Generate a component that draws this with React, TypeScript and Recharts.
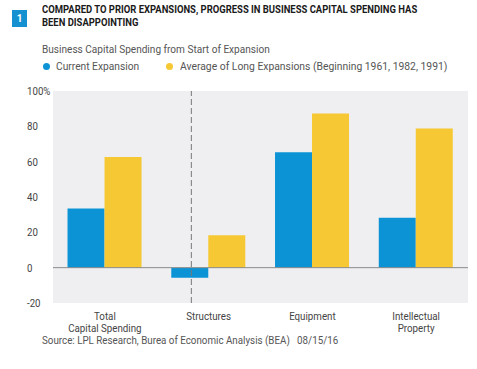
import React from "react";
import { BarChart, Bar, XAxis, YAxis, CartesianGrid, ReferenceLine } from "recharts";

const categories = ["Total\nCapital Spending", "Structures", "Equipment", "Intellectual\nProperty"];
const currentExpansion = [33.5, -5.7, 65.3, 28.2];
const longExpansions = [62.6, 18.3, 87.3, 78.8];
const yTicks = [-20, 0, 20, 40, 60, 80, 100];

const data = categories.map((name, i) => ({
  name,
  current: currentExpansion[i],
  average: longExpansions[i],
}));

const FONT = "Roboto, sans-serif";
const BLUE = "#0c93d6";
const YELLOW = "#f6c833";

// condensed look: squeeze text horizontally
function Narrow({ k, children }: { k: number; children: React.ReactNode }) {
  return (
    <span style={{ display: "inline-block", whiteSpace: "nowrap", transform: `scaleX(${k})`, transformOrigin: "left center" }}>
      {children}
    </span>
  );
}

function YTick(props: any) {
  const { y, payload } = props;
  const label = payload.value === 100 ? "100%" : String(payload.value);
  return (
    <g transform={`translate(27,${y}) scale(0.88,1)`}>
      <text x={0} y={0} dy={4} textAnchor="start" fontSize={11} fill="#444" fontFamily={FONT}>
        {label}
      </text>
    </g>
  );
}

function XTick(props: any) {
  const { x, y, payload } = props;
  const lines = String(payload.value).split("\n");
  return (
    <g transform={`translate(${x},${y}) scale(0.93,1)`}>
      <text x={0} y={0} textAnchor="middle" fontSize={10.5} fill="#444" fontFamily={FONT}>
        {lines.map((l, i) => (
          <tspan key={i} x={0} dy={i === 0 ? 9.5 : 11.5}>
            {l}
          </tspan>
        ))}
      </text>
    </g>
  );
}

export default function App() {
  return (
    <div
      style={{
        position: "absolute",
        left: 0,
        top: 0,
        width: 477,
        height: 369,
        background: "#fff",
        fontFamily: FONT,
      }}
    >
      <div
        style={{
          position: "absolute",
          left: 12,
          top: 10,
          width: 15,
          height: 17,
          background: "#1591d1",
          color: "#fff",
          fontSize: 10,
          fontWeight: 700,
          textAlign: "center",
          lineHeight: "17px",
        }}
      >
        1
      </div>
      <div style={{ position: "absolute", left: 42, top: 3, fontSize: 10.5, fontWeight: 700, lineHeight: "13px", color: "#1a1a1a" }}>
        <Narrow k={0.9}>COMPARED TO PRIOR EXPANSIONS, PROGRESS IN BUSINESS CAPITAL SPENDING HAS</Narrow>
        <br />
        <Narrow k={0.9}>BEEN DISAPPOINTING</Narrow>
      </div>
      <div style={{ position: "absolute", left: 42, top: 42, fontSize: 11.5, color: "#555", lineHeight: "15px" }}>
        <Narrow k={0.876}>Business Capital Spending from Start of Expansion</Narrow>
      </div>
      <div style={{ position: "absolute", left: 42, top: 59, fontSize: 11.5, color: "#555", lineHeight: "15px", display: "flex", alignItems: "center" }}>
        <span style={{ width: 7, height: 7, borderRadius: 4, background: BLUE, marginLeft: 1, marginRight: 6 }} />
        <span style={{ width: 110 }}>
          <Narrow k={0.89}>Current Expansion</Narrow>
        </span>
        <span style={{ width: 7, height: 7, borderRadius: 4, background: YELLOW, marginRight: 7 }} />
        <Narrow k={0.9}>Average of Long Expansions (Beginning 1961, 1982, 1991)</Narrow>
      </div>

      <div style={{ position: "absolute", left: 0, top: 0 }}>
        <BarChart
          width={477}
          height={369}
          data={data}
          margin={{ top: 91, right: 9, bottom: 36, left: 0 }}
          barCategoryGap="14%"
          barGap={0}
        >
          <CartesianGrid horizontal={false} vertical={false} fill="#efeff1" />
          <XAxis
            dataKey="name"
            axisLine={false}
            tickLine={false}
            interval={0}
            height={30}
            tick={<XTick />}
          />
          <XAxis xAxisId="num" type="number" domain={[0, 4]} hide />
          <YAxis
            domain={[-20, 100]}
            ticks={yTicks}
            width={53}
            axisLine={false}
            tickLine={false}
            tick={<YTick />}
          />
          <ReferenceLine y={0} stroke="#8a8a8a" strokeWidth={1} />
          <ReferenceLine x={1} xAxisId="num" stroke="#777" strokeDasharray="6 3" />
          <Bar dataKey="current" fill={BLUE} isAnimationActive={false} />
          <Bar dataKey="average" fill={YELLOW} isAnimationActive={false} />
        </BarChart>
      </div>

      <div style={{ position: "absolute", left: 42, top: 336, fontSize: 11, color: "#555", lineHeight: "10px" }}>
        <Narrow k={0.89}>Source: LPL Research, Burea of Economic Analysis (BEA)&nbsp;&nbsp;&nbsp;08/15/16</Narrow>
      </div>
    </div>
  );
}
